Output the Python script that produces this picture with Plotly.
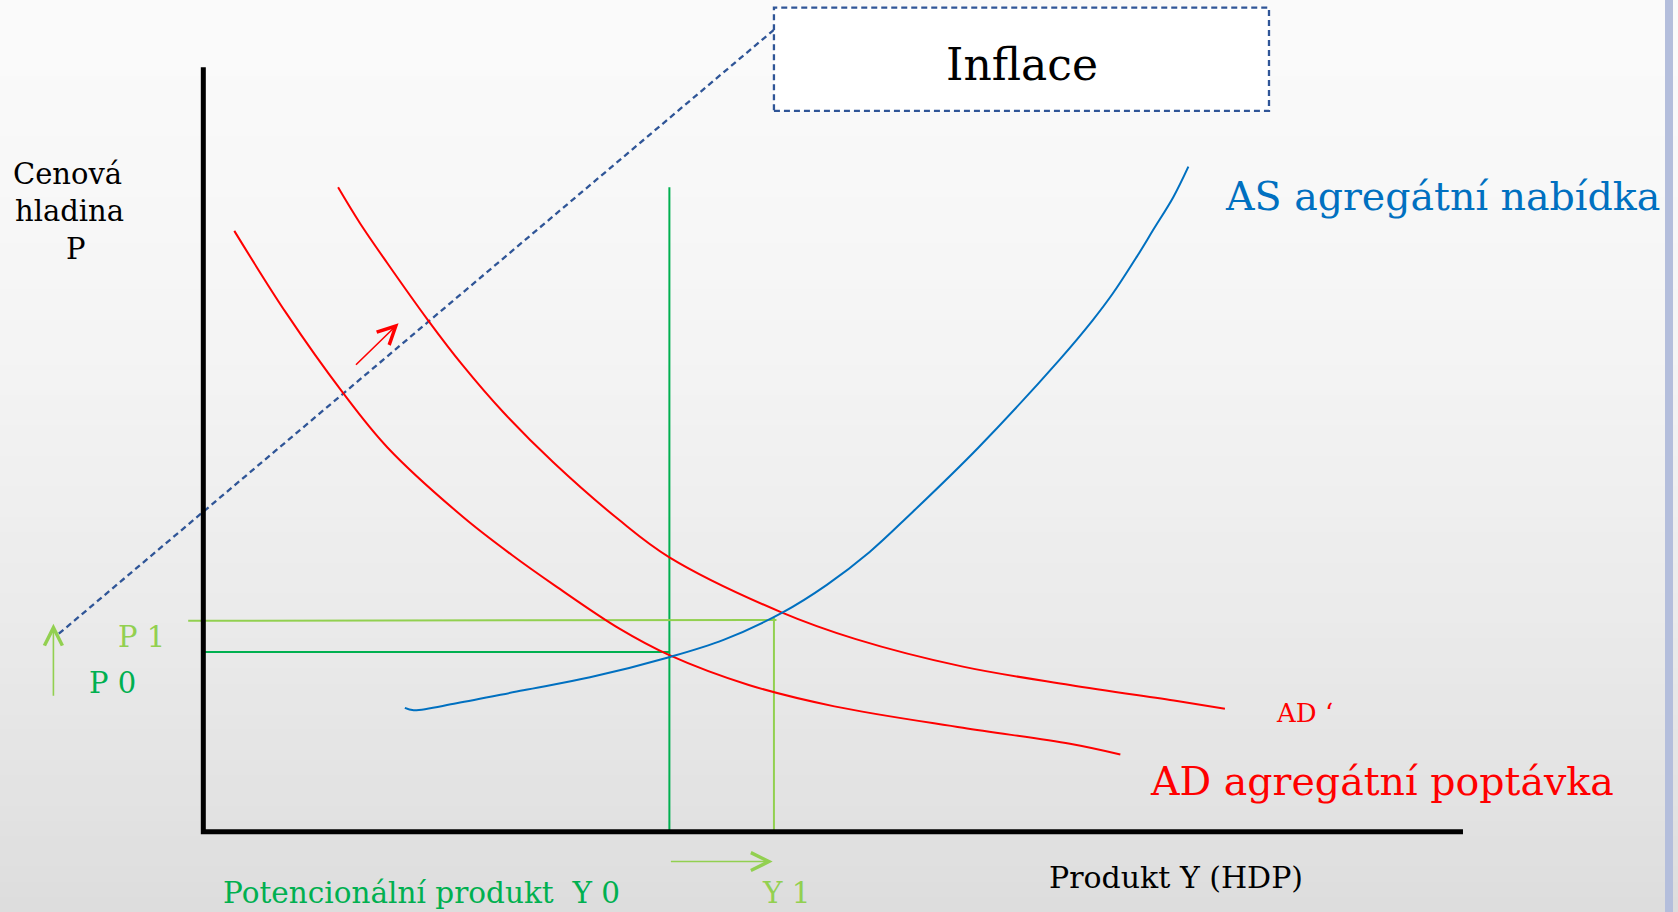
import plotly.graph_objects as go

# ---- data (chart units: product Y on x, price level P on y; axis corner = 0,0) ----
ad_x = [2.46, 6.6, 11.0, 14.6, 20.6, 24.5, 28.0, 33.0, 37.0, 43.3, 50.1, 60.3, 68.8, 72.8]
ad_y = [78.6, 67.8, 57.6, 50.3, 41.2, 36.2, 32.1, 26.6, 23.1, 19.2, 16.4, 13.6, 11.5, 10.1]

ad2_x = [10.7, 12.4, 14.6, 17.8, 20.6, 23.8, 27.8, 33.0, 37.0, 45.9, 51.8, 60.3, 68.8, 77.3, 81.1]
ad2_y = [84.3, 79.7, 74.4, 67.0, 61.0, 54.9, 48.3, 40.8, 35.9, 28.7, 25.2, 21.6, 19.2, 17.1, 16.1]

as_x = [16.0, 16.7, 20.1, 25.4, 30.7, 36.9, 41.3, 46.0, 49.5, 52.9, 56.1, 61.5, 68.0, 70.6, 72.2, 74.1, 75.4, 77.0, 78.2]
as_y = [16.2, 15.9, 16.8, 18.5, 20.2, 22.8, 25.1, 28.7, 32.3, 36.6, 41.5, 50.2, 61.8, 66.9, 70.4, 75.2, 78.7, 83.0, 87.0]

Y0, Y1 = 37.0, 45.3
P0, P1 = 23.5, 27.6
Y0_top, Y1_top = 84.3, 28.0
axis_max = 100.0

labels = {
    "ylabel": ["Cenová", "hladina", "P"],
    "xlabel": "Produkt Y (HDP)",
    "as": "AS agregátní nabídka",
    "ad": "AD agregátní poptávka",
    "ad2": "AD\u00a0‘",
    "inflace": "Inflace",
    "p0": "P 0", "p1": "P 1",
    "y0": "Potencionální produkt\u00a0\u00a0Y 0", "y1": "Y 1",
}

RED = "#ff0000"
BLUE = "#0070c0"
DGREEN = "#00b050"
LGREEN = "#92d050"
NAVY = "#2f5597"
FONT = "DejaVu Serif"

XR = [-16.14, 117.07]
YR = [-10.5, 108.8]

fig = go.Figure()

# background gradient bands
shapes = []
N = 60
for i in range(N):
    t0 = i / N
    t1 = (i + 1) / N
    tm = (t0 + t1) / 2
    c = int(round(250 - 29 * (1 - tm) ** 1.6))
    shapes.append(dict(type="rect", xref="paper", yref="paper", x0=0, x1=1, y0=t0, y1=t1 + 0.001,
                       fillcolor=f"rgb({c},{c},{c})", line=dict(width=0), layer="below"))
shapes.append(dict(type="rect", xref="paper", yref="paper", x0=1665 / 1678, x1=1673 / 1678, y0=0, y1=1,
                   fillcolor="#b4bedc", line=dict(width=0), layer="below"))

# dashed leader line and Inflace box
fig.add_trace(go.Scatter(x=[-11.47, 45.3], y=[25.9, 104.9], mode="lines",
                         line=dict(color=NAVY, width=2.3, dash="6px,4px"), hoverinfo="skip"))
shapes.append(dict(type="rect", xref="x", yref="y", x0=45.3, x1=84.6, y0=94.3, y1=107.8,
                   fillcolor="white", line=dict(color=NAVY, width=2.3, dash="6px,4px"), layer="above"))

# guide lines
fig.add_trace(go.Scatter(x=[Y0, Y0], y=[0, Y0_top], mode="lines", line=dict(color=DGREEN, width=2), hoverinfo="skip"))
fig.add_trace(go.Scatter(x=[Y1, Y1], y=[0, Y1_top], mode="lines", line=dict(color=LGREEN, width=2), hoverinfo="skip"))
fig.add_trace(go.Scatter(x=[-1.2, Y1 + 0.2], y=[P1, P1 + 0.1], mode="lines", line=dict(color=LGREEN, width=2), hoverinfo="skip"))
fig.add_trace(go.Scatter(x=[0, Y0], y=[P0, P0], mode="lines", line=dict(color=DGREEN, width=2), hoverinfo="skip"))

# curves
for cx, cy, col in [(ad_x, ad_y, RED), (ad2_x, ad2_y, RED), (as_x, as_y, BLUE)]:
    fig.add_trace(go.Scatter(x=cx, y=cy, mode="lines",
                             line=dict(color=col, width=2, shape="spline", smoothing=1.0), hoverinfo="skip"))

# axes (black)
fig.add_trace(go.Scatter(x=[0, 0, axis_max], y=[axis_max, 0, 0], mode="lines",
                         line=dict(color="black", width=5), hoverinfo="skip"))

ann = []
def txt(x, y, s, color, size):
    ann.append(dict(x=x, y=y, xref="x", yref="y", text=s, showarrow=False,
                    font=dict(family=FONT, size=size, color=color), xanchor="center", yanchor="middle"))

def arrow(x0, y0, x1, y1, color):
    ann.append(dict(x=x1, y=y1, ax=x0, ay=y0, xref="x", yref="y", axref="x", ayref="y", text="",
                    showarrow=True, arrowhead=5, arrowsize=2.2, arrowwidth=1.6, arrowcolor=color, standoff=0))

txt(-10.8, 86.1, labels["ylabel"][0], "black", 29)
txt(-10.6, 81.2, labels["ylabel"][1], "black", 29)
txt(-10.1, 76.2, labels["ylabel"][2], "black", 29)
txt(-4.9, 25.5, labels["p1"], LGREEN, 29)
txt(-7.2, 19.5, labels["p0"], DGREEN, 29)
txt(17.3, -8.0, labels["y0"], DGREEN, 29.5)
txt(46.3, -8.0, labels["y1"], LGREEN, 29.5)
txt(77.2, -6.0, labels["xlabel"], "black", 30)
txt(98.4, 83.2, labels["as"], BLUE, 39.5)
txt(87.4, 15.5, labels["ad2"], RED, 26)
txt(93.6, 6.7, labels["ad"], RED, 39.5)
txt(65.0, 100.4, labels["inflace"], "black", 44)

arrow(12.0, 60.9, 15.5, 66.5, RED)
arrow(-11.9, 17.6, -11.9, 27.2, LGREEN)
arrow(37.0, -3.9, 45.2, -3.9, LGREEN)

fig.update_layout(
    width=1678, height=912, margin=dict(l=0, r=0, t=0, b=0),
    paper_bgcolor="#f4f4f4", plot_bgcolor="rgba(0,0,0,0)",
    showlegend=False, shapes=shapes, annotations=ann,
    xaxis=dict(range=XR, visible=False, fixedrange=True),
    yaxis=dict(range=YR, visible=False, fixedrange=True),
)

fig.write_html("out.html", config={"displayModeBar": False},
               post_script="document.body.style.margin='0';document.body.style.overflow='hidden';")
